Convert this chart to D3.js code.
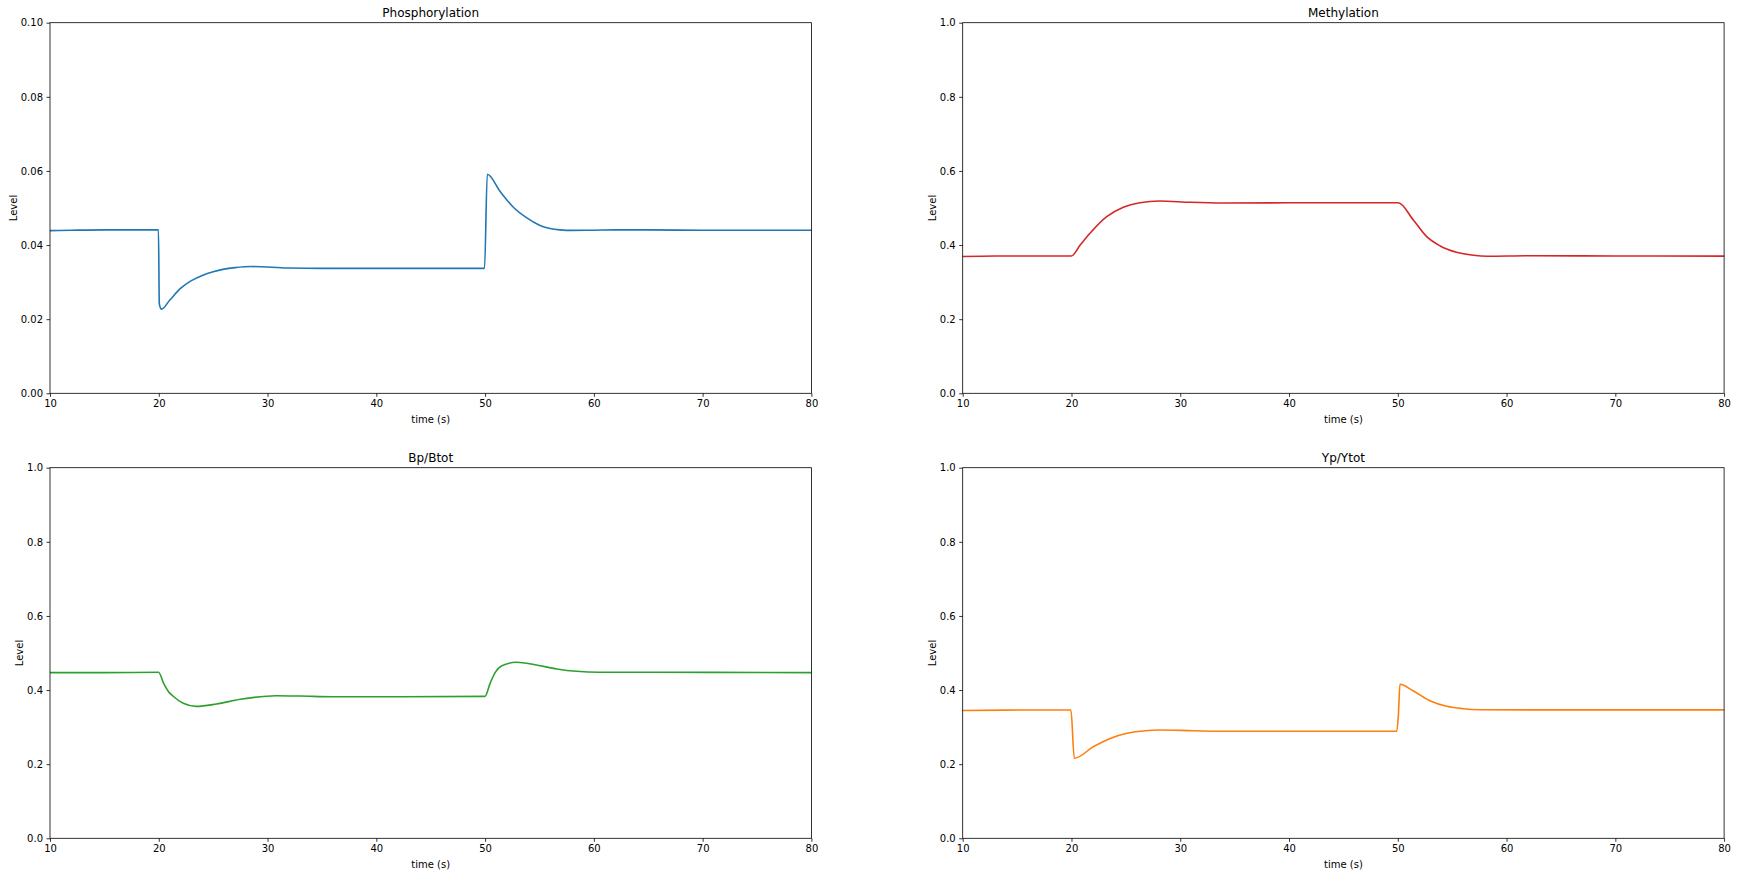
<!DOCTYPE html>
<html><head><meta charset="utf-8">
<script src="https://cdn.jsdelivr.net/npm/d3@7"></script>
<style>body{margin:0;background:#fff;} svg{display:block;} text{font-family:"DejaVu Sans",sans-serif;fill:#000;}</style>
</head><body>
<svg id="c" width="1737" height="876"></svg>
<script>
const xTicks = [10,20,30,40,50,60,70,80];
const phosTicks = [0,0.02,0.04,0.06,0.08,0.10];
const unitTicks = [0,0.2,0.4,0.6,0.8,1.0];

const phosT = [10,12,15,19.97,20.05,20.25,21,22,23,24,25,26,27,28.5,30,32,35,40,45,49.95,50.2,51.4,52.6,53.8,55.05,56.9,58,60,62,65,70,75,80];
const phosV = [0.0439,0.0440,0.0441,0.0441,0.0241,0.0227,0.0251,0.0283,0.0304,0.0318,0.0328,0.0335,0.0339,0.0342,0.0341,0.0338,0.0337,0.0337,0.0337,0.0337,0.0591,0.0544,0.0502,0.0474,0.0453,0.0441,0.04395,0.0440,0.0441,0.0441,0.0440,0.0440,0.0440];

const methT = [10,13,19.98,20.8,21.7,23.24,24.77,26.3,28.1,30.9,34,40,45,50.05,51.43,52.66,53.9,55.4,56.95,58.2,62,70,80];
const methV = [0.369,0.3705,0.3705,0.400,0.4317,0.4766,0.502,0.5143,0.519,0.5154,0.5135,0.514,0.5142,0.5143,0.4676,0.4226,0.3975,0.3805,0.3724,0.3697,0.3712,0.3705,0.3702];

const bpT = [10,15,19.98,20.45,20.9,21.3,22.25,23.44,25.3,27.5,30.8,33,36,42,49.98,50.46,50.92,51.5,52.9,54.7,56.6,58.4,60.5,65,80];
const bpV = [0.447,0.447,0.448,0.418,0.3956,0.384,0.3643,0.356,0.3624,0.375,0.3848,0.384,0.382,0.382,0.383,0.418,0.447,0.465,0.475,0.4676,0.457,0.4506,0.448,0.448,0.447];

const ypT = [10,15,19.95,20.26,22.0,23.5,25.1,26.6,28.1,31.2,34.3,40,49.9,50.05,50.2,51.4,52.95,54.5,56.0,57.6,62,80];
const ypV = [0.345,0.346,0.346,0.2159,0.247,0.2688,0.2833,0.2895,0.2922,0.2903,0.2887,0.289,0.289,0.330,0.4155,0.398,0.3713,0.3562,0.3497,0.347,0.3465,0.3465];

const panels = [
  {title:"Phosphorylation", t:phosT, v:phosV, color:"#1f77b4", ymax:0.1, ticks:phosTicks, fmt:d3.format(".2f"), x0:50, y0:22.7},
  {title:"Methylation", t:methT, v:methV, color:"#d62728", ymax:1, ticks:unitTicks, fmt:d3.format(".1f"), x0:962.7, y0:22.7},
  {title:"Bp/Btot", t:bpT, v:bpV, color:"#2ca02c", ymax:1, ticks:unitTicks, fmt:d3.format(".1f"), x0:50, y0:467.7},
  {title:"Yp/Ytot", t:ypT, v:ypV, color:"#ff7f0e", ymax:1, ticks:unitTicks, fmt:d3.format(".1f"), x0:962.7, y0:467.7}
];
const W = 761.4, H = 370.6;
const svg = d3.select("#c");

panels.forEach(p => {
  const g = svg.append("g").attr("transform", `translate(${p.x0},${p.y0})`);
  const x = d3.scaleLinear().domain([10,80]).range([0,W]);
  const y = d3.scaleLinear().domain([0,p.ymax]).range([H,0]);
  const data = p.t.map((t,i)=>({t, v:p.v[i]}));
  g.append("path").datum(data)
    .attr("fill","none").attr("stroke",p.color).attr("stroke-width",1.6)
    .attr("stroke-linejoin","round")
    .attr("d", d3.line().x(d=>x(d.t)).y(d=>y(d.v)).curve(d3.curveMonotoneX));
  const xa = g.append("g").attr("transform",`translate(0,${H})`)
    .call(d3.axisBottom(x).tickValues(xTicks).tickSize(3.5).tickPadding(3.5).tickFormat(d3.format("d")));
  const ya = g.append("g")
    .call(d3.axisLeft(y).tickValues(p.ticks).tickSize(3.5).tickPadding(3.5).tickFormat(p.fmt));
  [xa,ya].forEach(a=>{
    a.select(".domain").remove();
    a.selectAll("line").attr("stroke","#000").attr("stroke-width",0.8);
    a.selectAll("text").attr("font-size",10).attr("font-family","DejaVu Sans").attr("fill","#000");
  });
  g.append("rect").attr("width",W).attr("height",H).attr("fill","none").attr("stroke","#000").attr("stroke-width",0.8);
  g.append("text").attr("x",W/2).attr("y",-6).attr("text-anchor","middle").attr("font-size",12).text(p.title);
  g.append("text").attr("x",W/2).attr("y",H+30).attr("text-anchor","middle").attr("font-size",10).text("time (s)");
  const bb = ya.node().getBBox();
  g.append("text").attr("transform",`translate(${bb.x-4},${H/2}) rotate(-90)`).attr("text-anchor","middle").attr("font-size",10).text("Level");
});
</script>
</body></html>
